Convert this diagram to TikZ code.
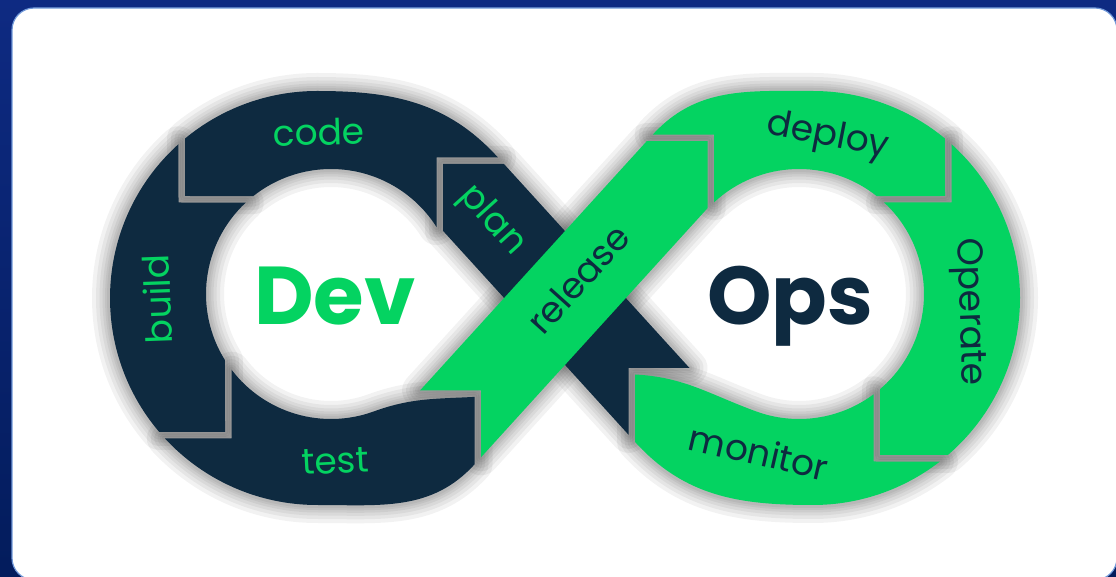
\documentclass[tikz,border=0pt]{standalone}
\usepackage{fontspec}
\setmainfont{Poppins}
\usetikzlibrary{calc}

\definecolor{navy}{RGB}{14,42,64}
\definecolor{leaf}{RGB}{4,211,97}
\definecolor{bgtop}{RGB}{14,42,130}
\definecolor{bgbot}{RGB}{3,28,92}
\definecolor{rim}{RGB}{110,150,215}

\newcommand{\codepath}{(497.9,-157.4) to[out=132.3,in=0] ($(OL)+(90:207)$) arc[start angle=90,end angle=129.6,radius=207] -- (185,-196) -- ($(IL)+(128.4:125)$) arc[start angle=128.4,end angle=32.4,radius=125] -- (436.5,-157.4) -- cycle}
\newcommand{\buildpath}{($(OL)+(132:207)$) arc[start angle=132,end angle=220.3,radius=207] -- (225,-432) -- ($(IL)+(212:125)$) arc[start angle=212,end angle=133,radius=125] -- (178.5,-202.5) -- cycle}
\newcommand{\testpath}{($(OL)+(222.7:207)$) arc[start angle=222.7,end angle=270,radius=207] to[out=0,in=227.7] (474.5,-464.4) -- (474.5,-396.9) to[out=183,in=20] ($(IL)+(290:125)$) arc[start angle=290,end angle=217.3,radius=125] -- (231.5,-438.5) -- cycle}
\newcommand{\planpath}{(443,-163.9) -- (503.9,-163.9) -- (689.5,-368) -- (628.7,-368) -- (628.7,-434.9) -- (443,-230.8) -- cycle}
\newcommand{\releasepath}{(420.1,-390.4) -- (481,-390.4) -- (481,-457.3) -- (707.7,-208) -- (707.7,-141.1) -- (646.8,-141.1) -- cycle}
\newcommand{\deploypath}{(652.8,-134.6) to[out=47.7,in=180] ($(OR)+(90:207)$) arc[start angle=90,end angle=50.4,radius=207] -- (945,-196) -- ($(IR)+(51.6:125)$) arc[start angle=51.6,end angle=132.7,radius=125] -- (714.2,-134.6) -- cycle}
\newcommand{\operatepath}{($(OR)+(48:207)$) arc[start angle=48,end angle=-49.3,radius=207] -- (880,-455) -- ($(IR)+(-49.6:125)$) arc[start angle=-49.6,end angle=47.1,radius=125] -- (951.5,-202.5) -- cycle}
\newcommand{\monitorpath}{($(OR)+(-52.2:207)$) arc[start angle=-52.2,end angle=-90,radius=207] to[out=180,in=-47.7] (635.2,-442.1) -- (635.2,-374.5) to[out=-3,in=160] ($(IR)+(250:125)$) arc[start angle=250,end angle=306.6,radius=125] -- (873.5,-461.5) -- cycle}

\begin{document}
\begin{tikzpicture}[x=0.5pt,y=0.5pt,
                    haze/.style={draw=black,opacity=0.05,line join=round},
                    seglabel/.style={font=\fontsize{18}{18}\selectfont,inner sep=0pt},
                    bigword/.style={font=\fontsize{41}{41}\selectfont\bfseries,inner sep=0pt,anchor=base}]
  \useasboundingbox (0,0) rectangle (1116,-577);
  \shade[top color=bgtop,bottom color=bgbot] (0,0) rectangle (1116,-577);
  \fill[white,draw=rim,line width=0.6pt,rounded corners=11pt] (12,-8) rectangle (1117,-580);

  \coordinate (OL) at (317,-298);
  \coordinate (IL) at (331,-294);
  \coordinate (OR) at (813,-298);
  \coordinate (IR) at (799,-294);

  \foreach \w in {18,14,10.5,7.5,5,3}
    \foreach \p in {\planpath,\releasepath,\codepath,\buildpath,\testpath,\deploypath,\operatepath,\monitorpath}
      \draw[haze,line width=\w pt] \p;

  \fill[navy] \planpath;
  \fill[leaf] \releasepath;
  \fill[navy] \codepath;
  \fill[navy] \buildpath;
  \fill[navy] \testpath;
  \fill[leaf] \deploypath;
  \fill[leaf] \operatepath;
  \fill[leaf] \monitorpath;

  \node[seglabel,text=leaf,rotate=2] (code) at (319,-132) {code};
  \node[seglabel,text=leaf,rotate=92] (build) at (157,-299) {build};
  \node[seglabel,text=leaf,rotate=3] (test) at (335,-461) {test};
  \node[seglabel,text=leaf,rotate=-48] (plan) at (492,-221) {plan};
  \node[seglabel,text=navy,rotate=48] (release) at (578,-279) {release};
  \node[seglabel,text=navy,rotate=-11] (deploy) at (828,-137) {deploy};
  \node[seglabel,text=navy,rotate=-88] (operate) at (968,-312) {Operate};
  \node[seglabel,text=navy,rotate=-13] (monitor) at (759,-452) {monitor};

  \node[bigword,text=leaf] (dev) at (335,-325) {Dev};
  \node[bigword,text=navy] (ops) at (790,-325) {Ops};
\end{tikzpicture}
\end{document}
